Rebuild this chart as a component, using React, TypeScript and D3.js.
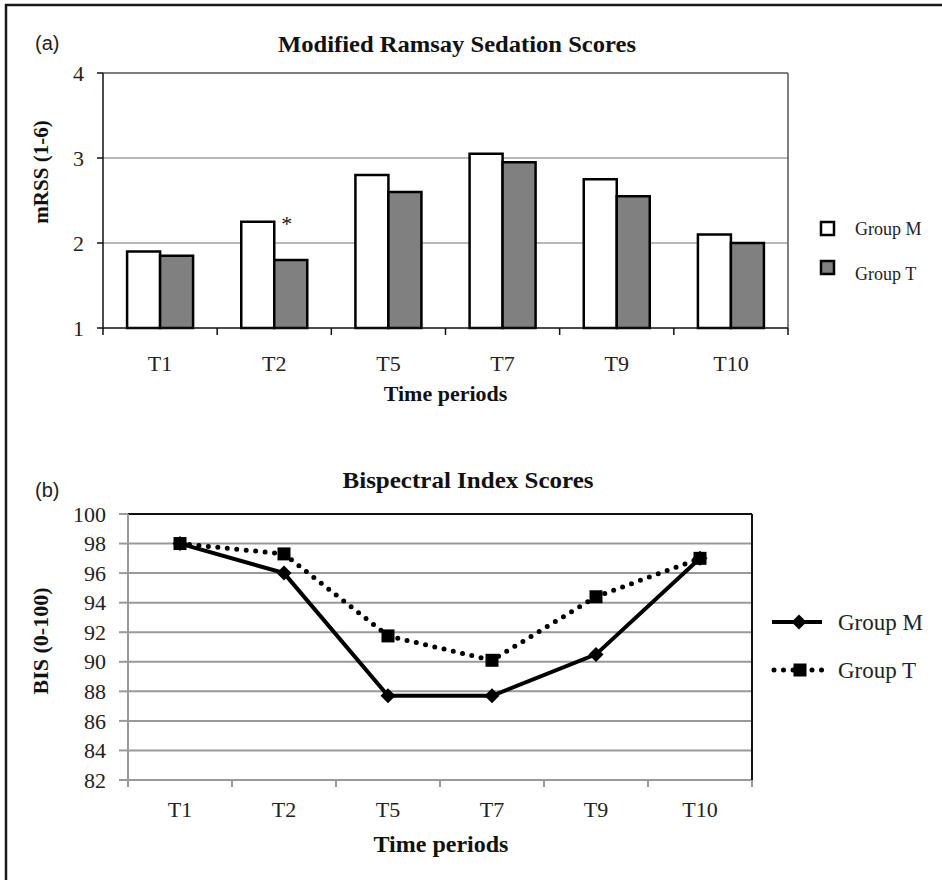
import React from 'react';
import * as d3 from 'd3';

const categories = ['T1', 'T2', 'T5', 'T7', 'T9', 'T10'];
const seriesNames = ['Group M', 'Group T'];
const mrssGroupM = [1.9, 2.25, 2.8, 3.05, 2.75, 2.1];
const mrssGroupT = [1.85, 1.8, 2.6, 2.95, 2.55, 2.0];
const mrssTicks = [1, 2, 3, 4];
const significantCats = ['T2'];
const bisGroupM = [98, 96, 87.7, 87.7, 90.5, 97];
const bisGroupT = [98, 97.3, 91.75, 90.1, 94.4, 97];
const bisTicks = [82, 84, 86, 88, 90, 92, 94, 96, 98, 100];

const SERIF = '"Liberation Serif", "Times New Roman", serif';
const SANS = '"Liberation Sans", Arial, sans-serif';

function TopChart() {
  const L = 103, R = 788, T = 73, B = 328;
  const x = d3.scaleBand<string>().domain(categories).range([L, R]);
  const groupW = 66;
  const off = (x.bandwidth() - groupW) / 2;
  const inner = d3.scaleBand<string>().domain(seriesNames).range([off, off + groupW]);
  const y = d3.scaleLinear().domain([1, 4]).range([B, T]);
  const series = [mrssGroupM, mrssGroupT];
  const fills = ['#ffffff', '#808080'];
  const boundaries = categories.map((c) => x(c) as number).concat([R]);
  return (
    <g>
      <text x={35} y={50} fontFamily={SANS} fontSize={20} fill="#222">(a)</text>
      <text x={457} y={52} textAnchor="middle" fontFamily={SERIF} fontWeight="bold" fontSize={24} textLength={358} lengthAdjust="spacingAndGlyphs" fill="#111">Modified Ramsay Sedation Scores</text>
      {mrssTicks.filter((t) => t > 1 && t < 4).map((t) => (
        <line key={t} x1={L} x2={R} y1={y(t)} y2={y(t)} stroke="#a0a0a0" strokeWidth={1.5} />
      ))}
      <line x1={L} x2={R} y1={y(4)} y2={y(4)} stroke="#555" strokeWidth={1.5} />
      <line x1={R} x2={R} y1={y(4)} y2={y(1)} stroke="#555" strokeWidth={1.5} />
      {categories.map((c, i) =>
        series.map((s, k) => (
          <rect key={c + k}
            x={(x(c) as number) + (inner(seriesNames[k]) as number)}
            y={y(s[i])}
            width={inner.bandwidth()}
            height={y(1) - y(s[i])}
            fill={fills[k]} stroke="#000" strokeWidth={2.5} />
        ))
      )}
      {categories.map((c, i) => significantCats.includes(c) ? (
        <text key={'s' + c} x={(x(c) as number) + (inner(seriesNames[1]) as number) + 7} y={y(mrssGroupM[i]) + 9} fontFamily={SERIF} fontSize={22} fill="#111">*</text>
      ) : null)}
      <line x1={L} x2={L} y1={y(4)} y2={y(1) + 1} stroke="#111" strokeWidth={1.5} />
      <line x1={L} x2={R} y1={y(1)} y2={y(1)} stroke="#111" strokeWidth={1.5} />
      {mrssTicks.map((t) => (
        <g key={t}>
          <line x1={L - 6} x2={L} y1={y(t)} y2={y(t)} stroke="#111" strokeWidth={1.5} />
          <text x={L - 19} y={y(t)} dy="0.35em" textAnchor="end" fontFamily={SERIF} fontSize={22} fill="#222">{t}</text>
        </g>
      ))}
      {boundaries.map((bx, i) => (
        <line key={i} x1={bx} x2={bx} y1={B} y2={B + 7} stroke="#111" strokeWidth={1.5} />
      ))}
      {categories.map((c) => (
        <text key={c} x={(x(c) as number) + x.bandwidth() / 2} y={371} textAnchor="middle" fontFamily={SERIF} fontSize={22} fill="#222">{c}</text>
      ))}
      <text x={(L + R) / 2} y={401} textAnchor="middle" fontFamily={SERIF} fontWeight="bold" fontSize={22} fill="#111">Time periods</text>
      <text transform={`translate(48,${172}) rotate(-90)`} textAnchor="middle" fontFamily={SERIF} fontWeight="bold" fontSize={21} fill="#111">mRSS (1-6)</text>
      {seriesNames.map((n, k) => (
        <g key={n}>
          <rect x={821} y={222 + k * 39} width={13} height={13} fill={fills[k]} stroke="#000" strokeWidth={2.5} />
          <text x={855} y={229 + k * 45} dy="0.35em" fontFamily={SERIF} fontSize={18} fill="#222">{n}</text>
        </g>
      ))}
    </g>
  );
}

function diamond(cx: number, cy: number, r: number) {
  return `M${cx},${cy - r}L${cx + r},${cy}L${cx},${cy + r}L${cx - r},${cy}Z`;
}

function BottomChart() {
  const L = 128, R = 752, T = 514, B = 780;
  const x = d3.scaleBand<string>().domain(categories).range([L, R]);
  const cx = (c: string) => (x(c) as number) + x.bandwidth() / 2;
  const y = d3.scaleLinear().domain([82, 100]).range([B, T]);
  const line = d3.line<number>().x((_, i) => cx(categories[i])).y((d) => y(d));
  const boundaries = categories.map((c) => x(c) as number).concat([R]);
  return (
    <g>
      <text x={35} y={497} fontFamily={SANS} fontSize={20} fill="#222">(b)</text>
      <text x={468} y={488} textAnchor="middle" fontFamily={SERIF} fontWeight="bold" fontSize={24} textLength={251} lengthAdjust="spacingAndGlyphs" fill="#111">Bispectral Index Scores</text>
      {bisTicks.filter((t) => t < 100).map((t) => (
        <line key={t} x1={L} x2={R} y1={y(t)} y2={y(t)} stroke="#999" strokeWidth={2} />
      ))}
      <line x1={L} x2={R} y1={y(100)} y2={y(100)} stroke="#111" strokeWidth={2} />
      <line x1={R} x2={R} y1={y(100)} y2={y(82)} stroke="#111" strokeWidth={2} />
      <line x1={L} x2={L} y1={y(100)} y2={y(82)} stroke="#999" strokeWidth={2} />
      {bisTicks.map((t) => (
        <g key={t}>
          <line x1={L - 9} x2={L} y1={y(t)} y2={y(t)} stroke="#999" strokeWidth={2} />
          <text x={L - 22} y={y(t)} dy="0.35em" textAnchor="end" fontFamily={SERIF} fontSize={22} fill="#222">{t}</text>
        </g>
      ))}
      {boundaries.map((bx, i) => (
        <line key={i} x1={bx} x2={bx} y1={B} y2={B + 7} stroke="#999" strokeWidth={2} />
      ))}
      <path d={line(bisGroupT) || ''} fill="none" stroke="#000" strokeWidth={5} strokeDasharray="0 9.5" strokeLinecap="round" />
      <path d={line(bisGroupM) || ''} fill="none" stroke="#000" strokeWidth={4} />
      {bisGroupT.map((v, i) => (
        <rect key={'t' + i} x={cx(categories[i]) - 6.5} y={y(v) - 6.5} width={13} height={13} fill="#000" />
      ))}
      {bisGroupM.map((v, i) => (
        <path key={'m' + i} d={diamond(cx(categories[i]), y(v), 7.5)} fill="#000" />
      ))}
      {categories.map((c) => (
        <text key={c} x={cx(c)} y={817} textAnchor="middle" fontFamily={SERIF} fontSize={22} fill="#222">{c}</text>
      ))}
      <text x={441} y={852} textAnchor="middle" fontFamily={SERIF} fontWeight="bold" fontSize={24} fill="#111">Time periods</text>
      <text transform={`translate(48,${641}) rotate(-90)`} textAnchor="middle" fontFamily={SERIF} fontWeight="bold" fontSize={22} fill="#111">BIS (0-100)</text>
      <g>
        <line x1={772} x2={822} y1={622} y2={622} stroke="#000" strokeWidth={4} />
        <path d={diamond(799, 622, 7.5)} fill="#000" />
        <text x={838} y={622} dy="0.35em" fontFamily={SERIF} fontSize={23} fill="#222">{seriesNames[0]}</text>
        <line x1={774} x2={822} y1={670} y2={670} stroke="#000" strokeWidth={5} strokeDasharray="0 9.5" strokeLinecap="round" />
        <rect x={793.5} y={663.5} width={13} height={13} fill="#000" />
        <text x={838} y={670} dy="0.35em" fontFamily={SERIF} fontSize={23} fill="#222">{seriesNames[1]}</text>
      </g>
    </g>
  );
}

export default function App() {
  return (
    <svg width={942} height={880} viewBox="0 0 942 880" style={{ position: 'absolute', left: 0, top: 0, background: '#fff' }}>
      <rect x={0} y={0} width={942} height={880} fill="#fff" />
      <line x1={5} x2={942} y1={5} y2={5} stroke="#1a1a1a" strokeWidth={2.5} />
      <line x1={6} x2={6} y1={4} y2={880} stroke="#1a1a1a" strokeWidth={2.5} />
      <TopChart />
      <BottomChart />
    </svg>
  );
}
